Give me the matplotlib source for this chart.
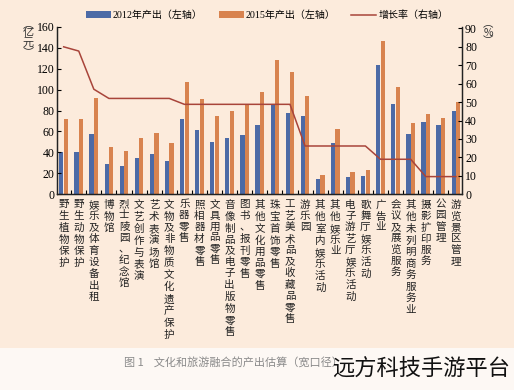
import numpy as np
import matplotlib.pyplot as plt

################################################
# data

categories = ["野生植物保护", "野生动物保护", "娱乐及体育设备出租", "博物馆",
              "烈士陵园、纪念馆", "文艺创作与表演", "艺术表演场馆",
              "文物及非物质文化遗产保护", "乐器零售", "照相器材零售", "文具用品零售",
              "音像制品及电子出版物零售", "图书、报刊零售", "其他文化用品零售",
              "珠宝首饰零售", "工艺美术品及收藏品零售", "游乐园", "其他室内娱乐活动",
              "其他娱乐业", "电子游艺厅娱乐活动", "歌舞厅娱乐活动", "广告业",
              "会议及展览服务", "其他未列明商务服务业", "摄影扩印服务", "公园管理",
              "游览景区管理"]

out_2012 = [40, 40.5, 58, 29, 27.4, 35, 38.5, 32, 71.6, 61, 50, 53.4, 57, 66,
            86, 78, 75, 15, 49.3, 16.5, 17.8, 123, 86, 57.3, 69, 66.5, 80]
out_2015 = [72, 72, 91.6, 45, 41.7, 53.8, 58.8, 48.7, 107, 91.3, 74.8, 79.8, 85.2, 98,
            128, 116.4, 94.2, 18.8, 62.7, 21, 23, 146.6, 102.4, 68.4, 76.7, 73.2, 88]
growth = [80, 77.7, 57, 52, 52, 52, 52, 52, 48.8, 48.8, 48.8, 48.8, 48.8, 48.8,
          48.8, 48.8, 26.2, 26.2, 26.2, 26.2, 26.2, 19, 19, 19, 9.6, 9.6, 9.6]

################################################
# style

bg = '#fcebdc'
c_blue = '#4c6aa6'
c_orange = '#d8834f'
c_line = '#a8443a'
fonts = ['Liberation Serif', 'Noto Sans CJK SC']
plt.rcParams['font.family'] = fonts

fig = plt.figure(figsize=(5.14, 3.9), dpi=100)
fig.patch.set_facecolor(bg)
# caption strip at the bottom
fig.patches.append(plt.Rectangle((0, 0), 1, 42/390, transform=fig.transFigure,
                                 facecolor='#fdf8f4', edgecolor='none', zorder=0))

ax = fig.add_axes([0.1115, 0.5018, 0.7879, 0.4297])
ax.set_facecolor(bg)
ax2 = ax.twinx()

x = np.arange(len(categories))
w = 0.28
b1 = ax.bar(x - 0.15, out_2012, w, color=c_blue, label='2012年产出（左轴）')
b2 = ax.bar(x + 0.15, out_2015, w, color=c_orange, label='2015年产出（左轴）')
l1, = ax2.plot(x, growth, color=c_line, lw=1.1, label='增长率（右轴）')

ax.set_xlim(-0.42, len(categories) - 0.58)
ax.set_ylim(0, 160)
ax.set_yticks(np.arange(0, 161, 20))
ax2.set_ylim(0, 90.9)
ax2.set_yticks(np.arange(0, 91, 10))

ax.set_xticks(x)
ax.set_xticklabels(['\n'.join(c) for c in categories], fontsize=7.6,
                   va='top', linespacing=1.25, color='#222222')
ax.set_xticks(np.arange(0.5, len(categories) - 1, 1), minor=True)
ax.tick_params(axis='x', which='major', length=0, pad=4)
ax.tick_params(axis='x', which='minor', direction='in', length=3, width=0.8)
ax.tick_params(axis='y', direction='in', length=3, width=0.8, labelsize=8.5, pad=2)
ax2.tick_params(axis='y', direction='in', length=3, width=0.8, labelsize=8.5, pad=2)

for a in (ax, ax2):
    a.spines['top'].set_visible(False)
    for s in ('left', 'right', 'bottom'):
        a.spines[s].set_linewidth(0.9)
        a.spines[s].set_color('#222222')

# axis units (vertical text)
fig.text(28/514, 1 - 38/390, '︵\n亿\n元\n︶', fontsize=8, ha='center', va='center',
         linespacing=0.9, color='#333333', family=['Noto Sans CJK SC'])
fig.text(488/514, 1 - 33/390, '︵\n%\n︶', fontsize=7.5, ha='center', va='center',
         linespacing=0.8, color='#333333', family=['Noto Sans CJK SC', 'DejaVu Sans'])

fig.legend(handles=[b1, b2, l1], loc='center', bbox_to_anchor=(267/514, 1 - 15/390),
           ncol=3, frameon=False, fontsize=7.2, handlelength=2.5, handleheight=0.6,
           columnspacing=1.6, handletextpad=0.2)

fig.text(124/514, 1 - 362/390, '图 1    文化和旅游融合的产出估算（宽口径）', fontsize=8,
         color='#8a8a8a', va='center', family=['Noto Sans CJK SC'])
fig.text(510/514, 1 - 369/390, '远方科技手游平台', fontsize=16, color='#111111',
         ha='right', va='center', family=['Noto Sans CJK SC'])

plt.savefig('out.png', dpi=100, facecolor=bg)
